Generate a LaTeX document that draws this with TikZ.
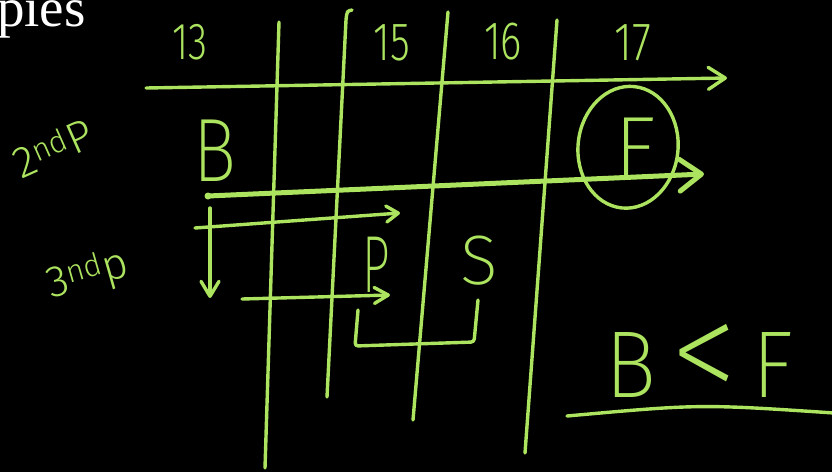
\documentclass[tikz,border=0pt]{standalone}
\usepackage{fontspec}
\usetikzlibrary{arrows.meta}
\newfontfamily\hand{Fira Sans ExtraLight}
\newfontfamily\handl{Fira Sans Light}
\newfontfamily\serifw{Liberation Serif}
\definecolor{chalk}{RGB}{172,228,96}
\begin{document}
\begin{tikzpicture}[x=1pt,y=-1pt,
  stroke/.style={draw=chalk,line width=3.4pt,line cap=round,line join=round},
  heavy/.style={stroke,line width=5pt},
  lbl/.style={text=chalk,inner sep=0pt,font=\hand\fontsize{#1}{#1}\selectfont},
  slbl/.style={text=chalk,inner sep=0pt,font=\handl\fontsize{#1}{#1}\selectfont},
  barb/.style 2 args={-{Straight Barb[length=#1pt,width=#2pt,round]}}]
\fill[black] (0,0) rectangle (832,472);
\useasboundingbox (0,0) rectangle (832,472);

% heading fragment
\node[text=white,inner sep=0pt,anchor=base west,font=\serifw\fontsize{55}{55}\selectfont] (pies) at (-3,26) {pies};

% column labels
\node[slbl=52,xscale=0.75] (c13) at (190,42) {13};
\node[slbl=54,xscale=0.75] (c15) at (392,43) {15};
\node[slbl=54,xscale=0.75] (c16) at (503,42) {16};
\node[slbl=54,xscale=0.8] (c17) at (633,43) {17};

% row labels
\node[slbl=44,rotate=24] (r2) at (53,148) {2\textsuperscript{nd}P};
\node[slbl=44,rotate=16] (r3) at (88,276) {3\textsuperscript{nd}p};

% letters
\node[lbl=90,xscale=0.8] (B) at (215,151) {B};
\node[lbl=87] (F) at (635,148) {F};
\node[lbl=81,xscale=0.6] (P) at (376,265) {P};
\node[lbl=70] (S) at (479,261) {S};
\node[lbl=95,xscale=0.9] (BF) at (699,364) {B\,\raisebox{-6pt}{\scalebox{1.6}{<}}\,F};

% grid lines
\coordinate (v1t) at (279,22);  \coordinate (v1b) at (265,468);
\coordinate (v2h) at (352,10);  \coordinate (v2t) at (346,20); \coordinate (v2b) at (327,397);
\coordinate (v3t) at (448,12);  \coordinate (v3b) at (413,420);
\coordinate (v4t) at (557,20);  \coordinate (v4b) at (525,453);
\draw[stroke] (v1t) -- (v1b);
\draw[stroke] (v2h) .. controls (347,11) .. (v2t) -- (v2b);
\draw[stroke] (v3t) -- (v3b);
\draw[stroke] (v4t) -- (v4b);

% arrows
\coordinate (a1s) at (146,88);  \coordinate (a1e) at (727,78);
\draw[stroke,barb={17}{22}] (a1s) -- (a1e);
\coordinate (a2s) at (208,196); \coordinate (a2e) at (704,174);
\draw[heavy,barb={22}{32}] (a2s) -- (a2e);
\fill[chalk] (a2s) circle (3.5pt);
\coordinate (a3s) at (195,228); \coordinate (a3e) at (400,213);
\draw[stroke,barb={12}{16}] (a3s) -- (a3e);
\coordinate (a4s) at (210,208); \coordinate (a4e) at (210,298);
\draw[stroke,barb={15}{18}] (a4s) -- (a4e);
\coordinate (a5s) at (242,299); \coordinate (a5e) at (390,295);
\draw[stroke,barb={14}{16}] (a5s) -- (a5e);

% bracket under P and S
\coordinate (k1) at (358,310); \coordinate (k2) at (355,346);
\coordinate (k3) at (474,342); \coordinate (k4) at (478,300);
\draw[stroke,rounded corners=3pt] (k1) -- (k2) -- (k3) -- (k4);

% circle around F
\draw[stroke,rotate around={-6:(F.center)}] ([xshift=-7pt]F.center) ellipse [x radius=50, y radius=61];

% underline
\coordinate (u1) at (567,416); \coordinate (u2) at (834,413);
\draw[stroke] (u1) .. controls (700,404) .. (u2);
\end{tikzpicture}
\end{document}
